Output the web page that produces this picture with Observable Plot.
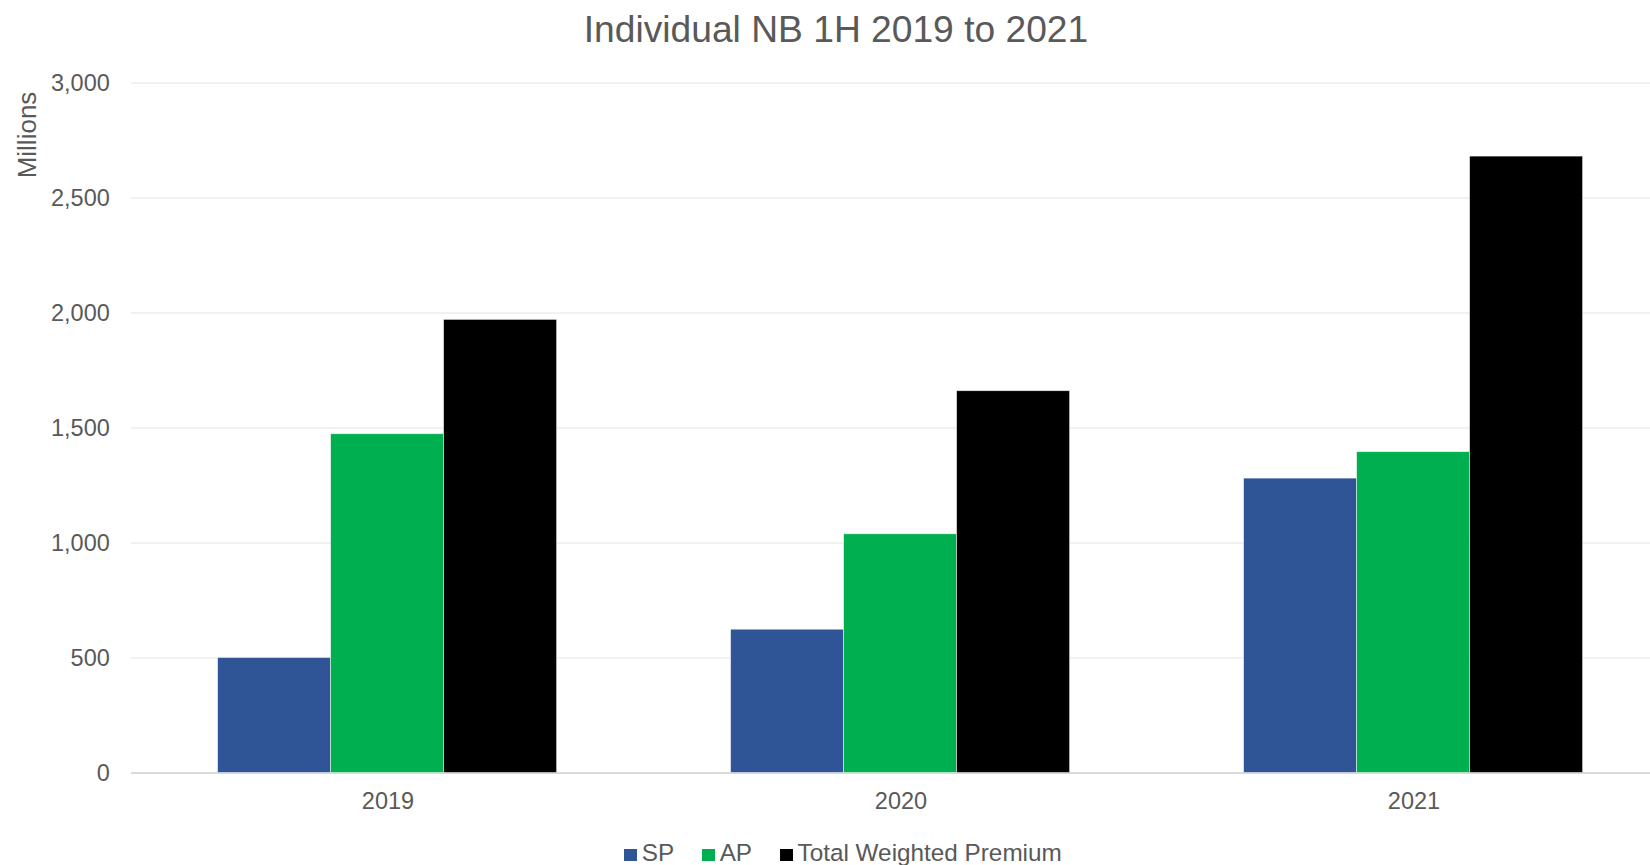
<!DOCTYPE html>
<html>
<head>
<meta charset="utf-8">
<script src="https://cdn.jsdelivr.net/npm/d3@7"></script>
<script src="https://cdn.jsdelivr.net/npm/@observablehq/plot@0.6"></script>
<style>
  html, body { margin: 0; padding: 0; background: #fff; overflow: hidden; }
  #wrap { position: relative; width: 1672px; height: 865px; overflow: hidden;
          font-family: "Liberation Sans", Arial, sans-serif; color: #595959; }
  #title { position: absolute; left: 0; top: 0; width: 1672px; height: 58px; line-height: 58px;
           text-align: center; font-size: 37.2px; }
  #ylab { position: absolute; left: 26.5px; top: 135px; font-size: 26px; white-space: nowrap;
          transform: translate(-50%, -50%) rotate(-90deg); }
  #chart { position: absolute; left: 0; top: 60px; }
  #legend { position: absolute; left: 7px; top: 840px; width: 1672px; height: 26px; line-height: 26px;
            text-align: center; font-size: 24.3px; white-space: nowrap; }
  .item { display: inline-block; margin: 0 14px; }
  .sw { display: inline-block; width: 12.5px; height: 12.5px; margin-right: 5px; vertical-align: 0px; }
</style>
</head>
<body>
<div id="wrap">
  <div id="title"></div>
  <div id="ylab"></div>
  <div id="chart"></div>
  <div id="legend"></div>
</div>
<script>
const titleText = "Individual NB 1H 2019 to 2021";
const yLabel = "Millions";
const years = ["2019", "2020", "2021"];
const seriesNames = ["SP", "AP", "Total Weighted Premium"];
const seriesColors = ["#2F5597", "#00B050", "#000000"];
const spValues = [500, 623, 1280];
const apValues = [1473, 1038, 1395];
const twpValues = [1970, 1660, 2680];
const yTicks = [0, 500, 1000, 1500, 2000, 2500, 3000];

const valuesBySeries = [spValues, apValues, twpValues];
const data = [];
years.forEach((yr, i) => {
  seriesNames.forEach((s, j) => data.push({year: yr, series: s, value: valuesBySeries[j][i]}));
});

document.getElementById("title").textContent = titleText;
document.getElementById("ylab").textContent = yLabel;

const plot = Plot.plot({
  width: 1672,
  height: 760,
  marginLeft: 130.4,
  marginRight: 0.7,
  marginTop: 22.5,
  marginBottom: 47.5,
  style: {fontFamily: '"Liberation Sans", Arial, sans-serif', fontSize: "23.5px", color: "#595959", background: "transparent"},
  fx: {domain: years, padding: 0, label: null, axis: "bottom", tickSize: 0, tickPadding: 19},
  x: {domain: seriesNames, paddingInner: 0, paddingOuter: 0.757, axis: null},
  y: {domain: [0, 3000], ticks: yTicks, tickFormat: d3.format(",.0f"), tickSize: 0, tickPadding: 21.7, label: null, grid: false},
  color: {domain: seriesNames, range: seriesColors},
  marks: [
    Plot.gridY(yTicks, {stroke: "#ececec", strokeOpacity: 1, strokeWidth: 1.5}),
    Plot.ruleY([0], {stroke: "#d9d9d9", strokeWidth: 2}),
    Plot.barY(data, {fx: "year", x: "series", y: "value", fill: "series", stroke: "#ffffff", strokeWidth: 0.8, strokeOpacity: 0.6})
  ]
});
document.getElementById("chart").appendChild(plot);

const legend = document.getElementById("legend");
seriesNames.forEach((s, j) => {
  const item = document.createElement("span");
  item.className = "item";
  const sw = document.createElement("span");
  sw.className = "sw";
  sw.style.background = seriesColors[j];
  item.appendChild(sw);
  item.appendChild(document.createTextNode(s));
  legend.appendChild(item);
});
</script>
</body>
</html>
